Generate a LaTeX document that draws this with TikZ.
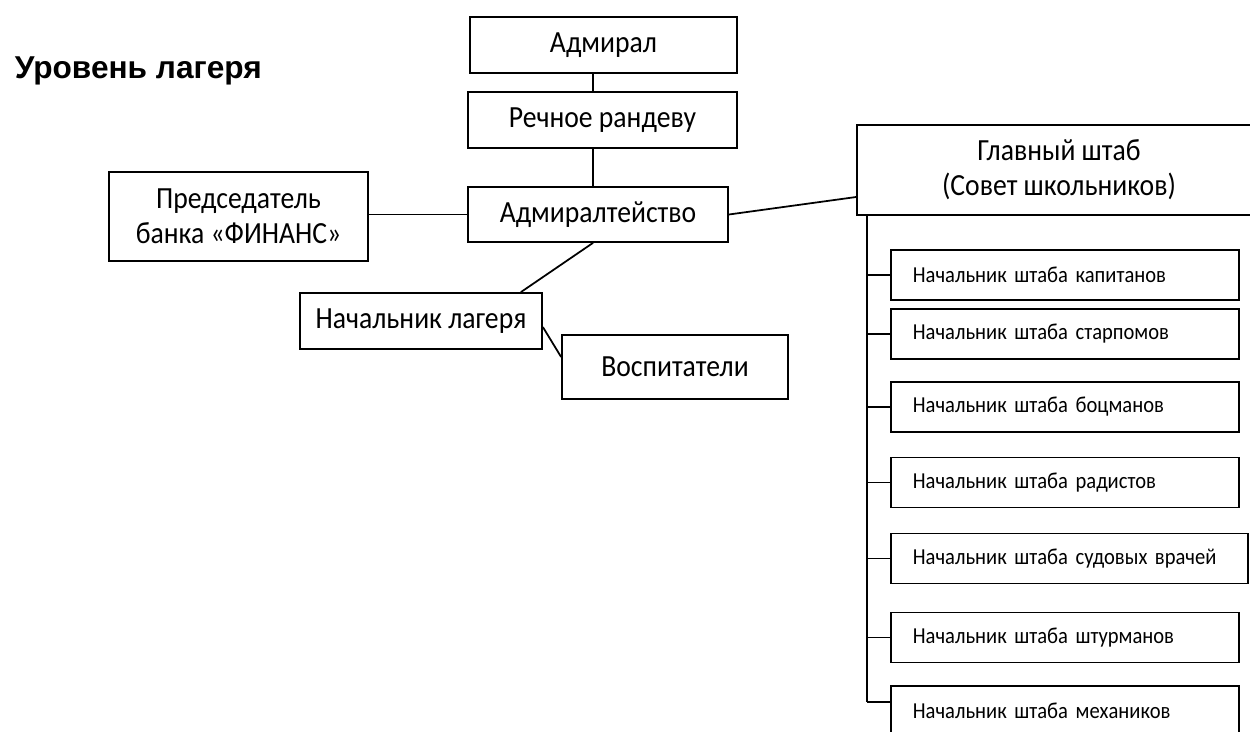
\documentclass[tikz,border=0pt]{standalone}
\usepackage{fontspec}
\setmainfont{Carlito}[FakeStretch=0.9]
\newfontfamily\headfont{Liberation Sans}

\begin{document}
\begin{tikzpicture}[x=0.02cm, y=-0.02cm, line width=1pt,
  box/.style = {draw, align=center, inner sep=0pt, font=\fontsize{17.5}{20}\selectfont},
  chief/.style = {draw, anchor=west, align=left, inner xsep=0.44cm, inner ysep=0pt,
    minimum height=1cm, font=\fontsize{13}{15}\selectfont}]
\useasboundingbox (0,0) rectangle (1250,731);

\node[anchor=base west, inner sep=0pt, font=\headfont\bfseries\fontsize{18}{21}\selectfont] (title) at (14,78) {Уровень лагеря};

\node[box, minimum width=5.34cm, minimum height=1.12cm] (adm) at (603.5,45) {Адмирал};
\node[box, minimum width=5.38cm, minimum height=1.12cm] (rech) at (602.5,120) {Речное рандеву};
\node[box, minimum width=5.2cm, minimum height=1.1cm] (admt) at (598,214.5) {Адмиралтейство};
\node[box, minimum width=5.18cm, minimum height=1.78cm] (pred) at (238.5,216.5) {Председатель\\банка «ФИНАНС»};
\node[box, minimum width=4.84cm, minimum height=1.12cm] (nachl) at (421,321) {Начальник лагеря};
\node[box, minimum width=4.52cm, minimum height=1.28cm] (vosp) at (675,367) {Воспитатели};
\node[box, minimum width=8.08cm, minimum height=1.8cm] (glav) at (1059,170) {Главный штаб\\(Совет школьников)};

\coordinate (spine) at ([xshift=-0.21cm]adm.south);
\draw (spine) -- (spine |- rech.north);
\draw (spine |- rech.south) -- (spine |- admt.north);
\draw (admt.west) -- (admt.west -| pred.east);
\draw (spine |- admt.south) -- ([xshift=-0.44cm]nachl.north east);
\draw ([yshift=-0.12cm]nachl.east) -- ([yshift=0.2cm]vosp.west);
\draw (admt.east) -- ([yshift=-0.54cm]glav.west);

\coordinate (trunk) at ([xshift=0.22cm]glav.south west);
\foreach \i/\yc/\tw/\tk/\name in {1/275/6.08/0/капитанов, 2/334/6.08/0/старпомов,
    3/407/6.08/0/боцманов, 4/482.5/6.08/0/радистов, 5/558.5/6.26/0/судовых врачей,
    6/637.5/6.08/0/штурманов, 7/711/6.08/0.18/механиков}
{
  \node[chief, text width=\tw cm] (ch\i) at (890,\yc) {Начальник штаба \name};
  \draw ([yshift=\tk cm]ch\i.west -| trunk) -- ([yshift=\tk cm]ch\i.west);
}
\draw (trunk) -- ([yshift=0.18cm]ch7.west -| trunk);
\end{tikzpicture}
\end{document}
